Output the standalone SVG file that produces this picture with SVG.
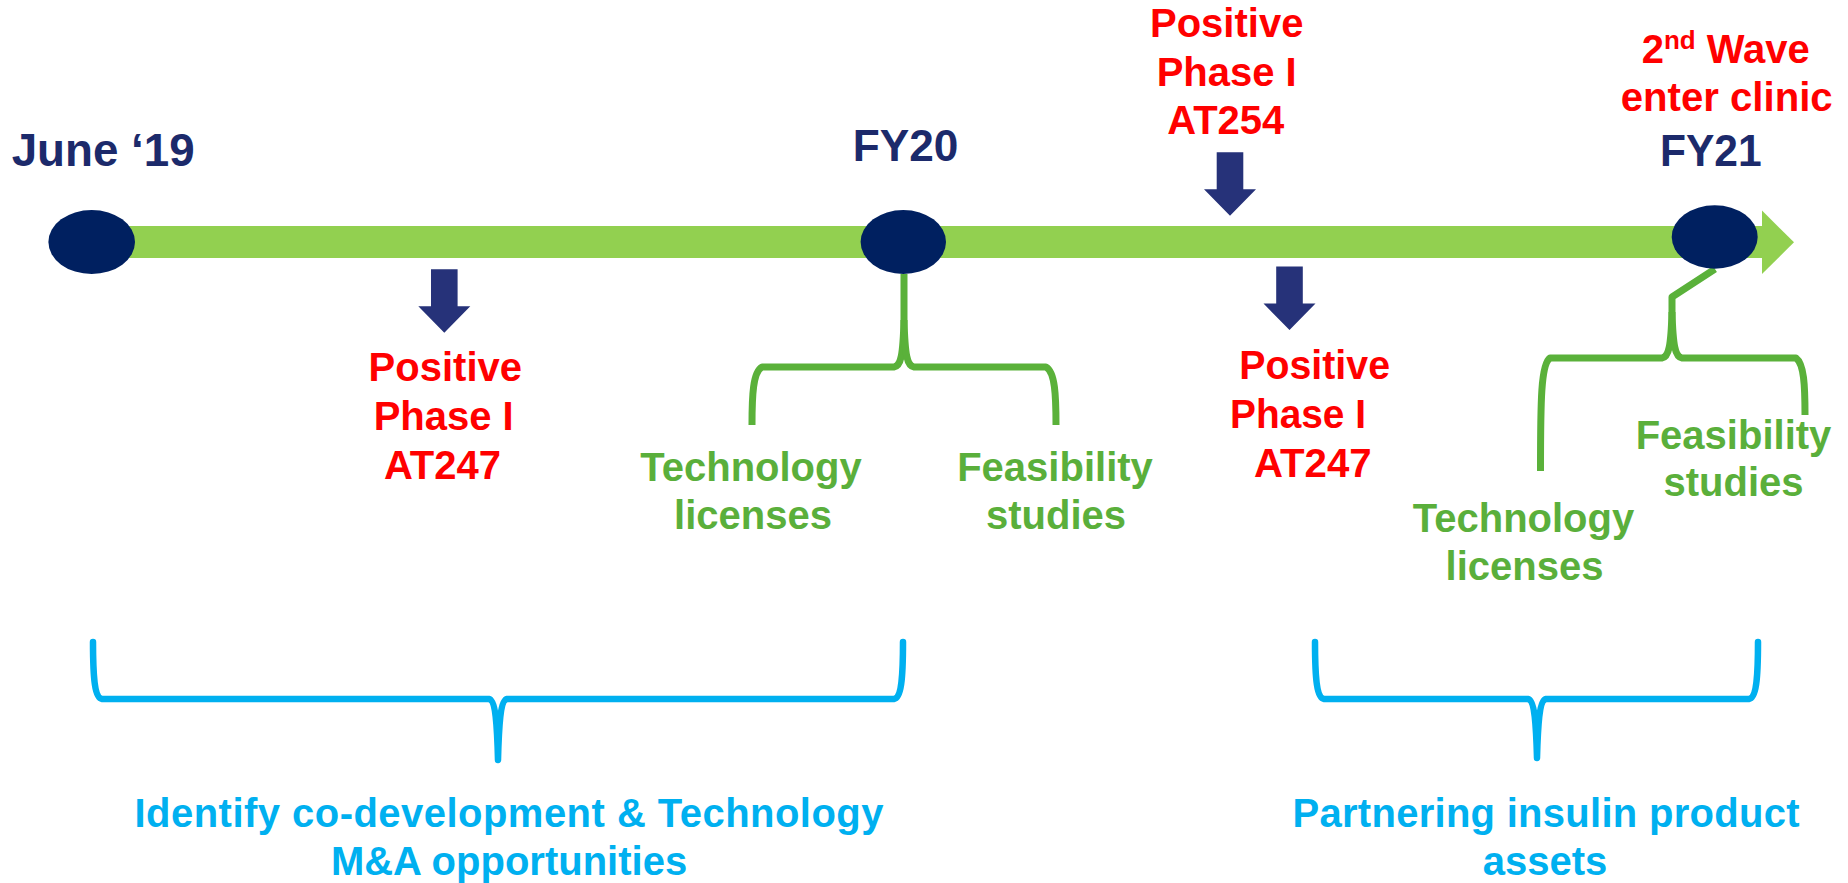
<svg xmlns="http://www.w3.org/2000/svg" xmlns:xlink="http://www.w3.org/1999/xlink" width="1848" height="883" viewBox="0 0 1848 883">
<style>
text{font-family:"Liberation Sans",Arial,sans-serif;font-weight:bold;}
.navy{fill:#1C2A6B;}
.red{fill:#FF0000;font-size:40px;}
.grn{fill:#5AAF3B;font-size:40px;}
.blu{fill:#00B0F0;font-size:40px;}
.dot{fill:#002060;}
.gbr{fill:none;stroke:#5AB13A;stroke-width:7;stroke-linejoin:round;}
.bbr{fill:none;stroke:#00B0F0;stroke-width:6.5;stroke-linejoin:round;stroke-linecap:round;}
.darr{fill:#263279;}
</style>
<defs>
<path id="downArrow" d="M-13.3,0 H13.3 V37 H26 L0,63.5 L-26,37 H-13.3 Z"/>
</defs>
<rect width="1848" height="883" fill="#FFFFFF"/>

<g id="timeline">
<rect x="92" y="226" width="1671" height="32" fill="#92D050"/>
<polygon points="1762,210.5 1794,242.3 1762,274" fill="#92D050"/>
</g>

<g id="connectors">
<path class="gbr" d="M752,425 C752,395 753,372 762,367 L894,367 C901,366 903,355 904,320 L904,274"/>
<path class="gbr" d="M1056,425 C1056,395 1055,372 1046,367 L914,367 C907,366 905,355 904,320"/>
<path class="gbr" d="M1540.5,471 C1540.5,400 1541,364 1550,358 L1662,358 C1669,357 1671,345 1672,312 L1672,297 L1715,269"/>
<path class="gbr" d="M1805,415 C1805,385 1804,364 1796,358 L1682,358 C1675,357 1673,345 1672,312"/>
<path class="bbr" d="M93,642 C93,680 95,698 102,699 L489,699 C495,700 497,720 498,760 C499,720 501,700 507,699 L894,699 C901,698 903,680 903,642"/>
<path class="bbr" d="M1315,642 C1315,680 1317,698 1324,699 L1528,699 C1534,700 1536,720 1537,758 C1538,720 1540,700 1546,699 L1749,699 C1756,698 1758,680 1758,642"/>
</g>

<g id="node-june19">
<ellipse class="dot" cx="91.7" cy="242" rx="43.3" ry="32"/>
<text class="navy" x="11.7" y="166" font-size="46" textLength="183" lengthAdjust="spacingAndGlyphs">June ‘19</text>
</g>

<g id="node-fy20">
<ellipse class="dot" cx="903.3" cy="242" rx="42.7" ry="32"/>
<text class="navy" x="852.7" y="161" font-size="44" textLength="105.6" lengthAdjust="spacingAndGlyphs">FY20</text>
</g>

<g id="node-fy21">
<ellipse class="dot" cx="1714.7" cy="237" rx="43" ry="31.7"/>
<text class="navy" x="1660" y="165.7" font-size="44" textLength="101.7" lengthAdjust="spacingAndGlyphs">FY21</text>
</g>

<g id="milestone-at247-a">
<use xlink:href="#downArrow" class="darr" x="444.3" y="269.3"/>
<text class="red" text-anchor="middle" x="445.3" y="380.7">Positive</text>
<text class="red" text-anchor="middle" x="443.7" y="430">Phase I</text>
<text class="red" text-anchor="middle" x="442.5" y="479.3">AT247</text>
</g>

<g id="milestone-at254">
<text class="red" text-anchor="middle" x="1226.7" y="36.7">Positive</text>
<text class="red" text-anchor="middle" x="1226.7" y="86">Phase I</text>
<text class="red" text-anchor="middle" x="1225.8" y="134.3">AT254</text>
<use xlink:href="#downArrow" class="darr" x="1230" y="152.3"/>
</g>

<g id="milestone-at247-b">
<use xlink:href="#downArrow" class="darr" x="1289.5" y="266.5"/>
<text class="red" x="1239.3" y="379.3" textLength="150.7" lengthAdjust="spacingAndGlyphs">Positive</text>
<text class="red" x="1230" y="428.3" textLength="136" lengthAdjust="spacingAndGlyphs">Phase I</text>
<text class="red" x="1254" y="476.7" textLength="117.7" lengthAdjust="spacingAndGlyphs">AT247</text>
</g>

<g id="milestone-2nd-wave">
<text class="red" x="1641.7" y="63.3">2<tspan font-size="26" dy="-14">nd</tspan><tspan dy="14"> Wave</tspan></text>
<text class="red" text-anchor="middle" x="1726.7" y="111" textLength="212" lengthAdjust="spacingAndGlyphs">enter clinic</text>
</g>

<g id="fy20-technology-licenses">
<text class="grn" text-anchor="middle" x="751" y="481">Technology</text>
<text class="grn" text-anchor="middle" x="753" y="529.3">licenses</text>
</g>
<g id="fy20-feasibility-studies">
<text class="grn" text-anchor="middle" x="1055" y="481">Feasibility</text>
<text class="grn" text-anchor="middle" x="1056" y="529.3">studies</text>
</g>
<g id="fy21-feasibility-studies">
<text class="grn" text-anchor="middle" x="1733.5" y="448.5">Feasibility</text>
<text class="grn" text-anchor="middle" x="1733.5" y="496.4">studies</text>
</g>
<g id="fy21-technology-licenses">
<text class="grn" text-anchor="middle" x="1523.5" y="532">Technology</text>
<text class="grn" text-anchor="middle" x="1524.5" y="580">licenses</text>
</g>

<g id="phase-identify">
<text class="blu" text-anchor="middle" x="509" y="826.7" textLength="749" lengthAdjust="spacing">Identify co-development  &amp;  Technology</text>
<text class="blu" text-anchor="middle" x="509" y="875">M&amp;A opportunities</text>
</g>
<g id="phase-partnering">
<text class="blu" text-anchor="middle" x="1546" y="826.7" textLength="507" lengthAdjust="spacing">Partnering insulin product</text>
<text class="blu" text-anchor="middle" x="1545" y="875">assets</text>
</g>
</svg>
